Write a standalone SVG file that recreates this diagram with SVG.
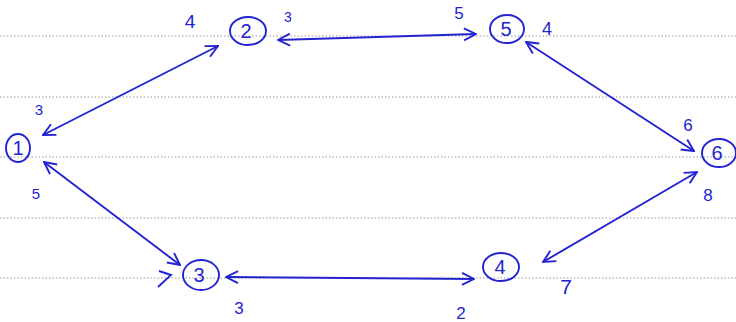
<svg xmlns="http://www.w3.org/2000/svg" width="736" height="322" viewBox="0 0 736 322">
<style>
.rule{stroke:#9a9a9a;stroke-width:1;stroke-dasharray:1.5 2}
.node ellipse{fill:none;stroke:#2323d2;stroke-width:1.9}
.node text{font-family:"Liberation Sans",sans-serif;font-size:20px;fill:#2323d2;text-anchor:middle}
.edge{stroke:#2323d2;stroke-width:1.9;fill:none;marker-start:url(#ah);marker-end:url(#ah)}
.lbl{font-family:"Liberation Sans",sans-serif;fill:#2323d2;text-anchor:middle}
</style>
<defs>
<marker id="ah" viewBox="0 0 14 14" refX="13" refY="7" markerWidth="14" markerHeight="14" markerUnits="userSpaceOnUse" orient="auto-start-reverse">
<path d="M1,1 L13,7 L1,13" fill="none" stroke="#2323d2" stroke-width="1.9"/>
</marker>
</defs>
<rect width="736" height="322" fill="#ffffff"/>
<g id="rules">
<line class="rule" x1="0" y1="36" x2="736" y2="36"/>
<line class="rule" x1="0" y1="97" x2="736" y2="97"/>
<line class="rule" x1="0" y1="157" x2="736" y2="157"/>
<line class="rule" x1="0" y1="218" x2="736" y2="218"/>
<line class="rule" x1="0" y1="278" x2="736" y2="278"/>
</g>
<g id="connectors">
<line class="edge" x1="43" y1="135" x2="218" y2="46"/>
<line class="edge" x1="278" y1="40" x2="476" y2="34"/>
<line class="edge" x1="526" y1="42" x2="694" y2="151"/>
<line class="edge" x1="44" y1="162" x2="180" y2="265"/>
<line class="edge" x1="226" y1="277" x2="474" y2="279"/>
<line class="edge" x1="543" y1="262" x2="697" y2="172"/>
<path d="M159,271 L171,275 L158,287" fill="none" stroke="#2323d2" stroke-width="1.9"/>
</g>
<g id="node1" class="node"><ellipse cx="18" cy="148" rx="12" ry="14"/><text x="18" y="155">1</text></g>
<g id="node2" class="node"><ellipse cx="248" cy="31" rx="18" ry="14"/><text x="246" y="38">2</text></g>
<g id="node5" class="node"><ellipse cx="507" cy="29" rx="17" ry="14"/><text x="506" y="36">5</text></g>
<g id="node6" class="node"><ellipse cx="719" cy="153" rx="17" ry="14"/><text x="717" y="160">6</text></g>
<g id="node3" class="node"><ellipse cx="201" cy="275" rx="18" ry="15"/><text x="199" y="282">3</text></g>
<g id="node4" class="node"><ellipse cx="501" cy="267" rx="18" ry="14"/><text x="500" y="274">4</text></g>
<g id="labels">
<text class="lbl" x="190" y="28" font-size="19">4</text>
<text class="lbl" x="288" y="22" font-size="14">3</text>
<text class="lbl" x="459" y="19" font-size="17">5</text>
<text class="lbl" x="547" y="35" font-size="18">4</text>
<text class="lbl" x="39" y="115" font-size="15">3</text>
<text class="lbl" x="36" y="199" font-size="15">5</text>
<text class="lbl" x="688" y="131" font-size="17">6</text>
<text class="lbl" x="708" y="201" font-size="17">8</text>
<text class="lbl" x="239" y="314" font-size="17">3</text>
<text class="lbl" x="461" y="319" font-size="17">2</text>
<text class="lbl" x="566" y="294" font-size="21">7</text>
</g>
</svg>
